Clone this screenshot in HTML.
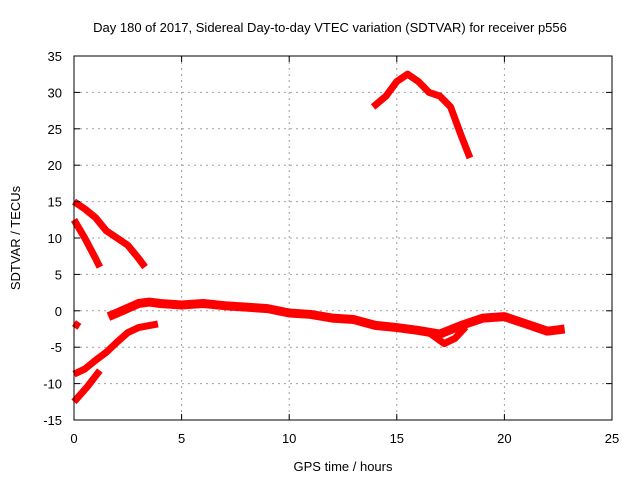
<!DOCTYPE html>
<html><head><meta charset="utf-8"><style>body{margin:0;background:#fff}svg{display:block;font-family:"Liberation Sans",sans-serif}</style></head>
<body>
<svg id="chart" width="640" height="480">
<text x="330" y="32" font-size="13" text-anchor="middle">Day 180 of 2017, Sidereal Day-to-day VTEC variation (SDTVAR) for receiver p556</text>
<text x="343" y="471" font-size="13" text-anchor="middle">GPS time / hours</text>
<text transform="translate(20,238) rotate(-90)" font-size="13" text-anchor="middle">SDTVAR / TECUs</text>
<g id="grid"></g><g id="series"></g>
<rect x="74" y="56" width="538" height="364" fill="none" stroke="#000"/>
<g id="ticks"></g>
</svg>
<script>
const xTicks=[0,5,10,15,20,25];
const yTicks=[-15,-10,-5,0,5,10,15,20,25,30,35];
const seriesA=[[0,15],[0.5,14],[1,12.8],[1.5,11],[2,10],[2.5,9],[3,7.2],[3.3,6]];
const seriesB=[[0,12.5],[0.5,10],[1,7.2],[1.2,6]];
const seriesC=[[0,-1.7],[0.25,-2.2]];
const seriesD=[[0,-8.7],[0.5,-8],[1,-6.8],[1.5,-5.7],[2,-4.3],[2.5,-3],[3,-2.3],[3.9,-1.8]];
const seriesD2=[[0,-12.5],[0.6,-10.5],[1.2,-8.2]];
const seriesE=[[1.6,-0.8],[2,-0.3],[3,1],[3.5,1.2],[4,1],[5,0.8],[6,1],[7,0.7],[8,0.5],[9,0.3],[10,-0.3],[11,-0.5],[12,-1],[13,-1.2],[14,-2],[15,-2.3],[16,-2.7],[17,-3.2],[18,-2],[19,-1],[20,-0.8],[21,-1.8],[22,-2.8],[22.8,-2.5]];
const seriesE2=[[16.5,-3],[17.2,-4.5],[17.7,-3.8],[18.2,-2.2]];
const seriesF=[[13.9,28],[14.5,29.5],[15,31.5],[15.5,32.5],[16,31.5],[16.5,30],[17,29.5],[17.5,28],[18,24],[18.4,21]];
const X=v=>74+v*538/25, Y=v=>420-(v+15)*364/50;
const NS='http://www.w3.org/2000/svg';
const grid=document.getElementById('grid'),ticks=document.getElementById('ticks'),ser=document.getElementById('series');
function mk(tag,at,par){const e=document.createElementNS(NS,tag);for(const k in at)e.setAttribute(k,at[k]);par.appendChild(e);return e;}
xTicks.forEach(t=>{const x=X(t);
 if(t>0&&t<25){const g=mk('line',{x1:x,x2:x,y1:56,y2:420,stroke:'#a0a0a0','stroke-dasharray':'2,4'},grid);}
 mk('line',{x1:x,x2:x,y1:420,y2:414,stroke:'#000'},ticks);mk('line',{x1:x,x2:x,y1:56,y2:62,stroke:'#000'},ticks);
 const l=mk('text',{x:x,y:443,'font-size':13,'text-anchor':'middle'},ticks);l.textContent=t;
 });
yTicks.forEach(t=>{const y=Y(t);
 if(t>-15&&t<35){const g=mk('line',{x1:74,x2:612,y1:y,y2:y,stroke:'#a0a0a0','stroke-dasharray':'2,4'},grid);}
 mk('line',{x1:74,x2:80,y1:y,y2:y,stroke:'#000'},ticks);mk('line',{x1:612,x2:606,y1:y,y2:y,stroke:'#000'},ticks);
 const l=mk('text',{x:62,y:y+5,'font-size':13,'text-anchor':'end'},ticks);l.textContent=t;
 });
[seriesA,seriesB,seriesC,seriesD,seriesD2,seriesE,seriesE2,seriesF].forEach((s,i)=>{
 const p=mk('polyline',{points:s.map(d=>X(d[0])+','+Y(d[1])).join(' '),fill:'none',stroke:'#ff0000','stroke-width':i==5?9:7,'stroke-linejoin':'round'},ser);
 
 });
</script>
</body></html>
